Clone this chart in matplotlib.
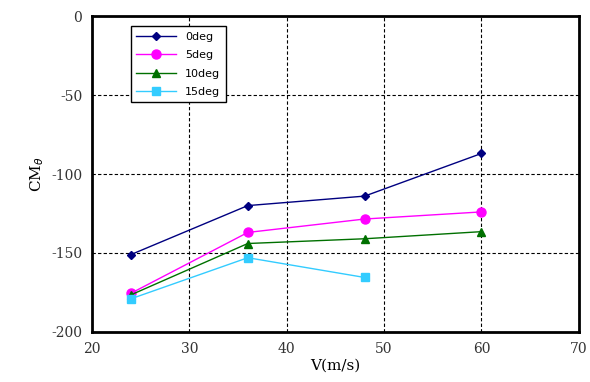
import matplotlib.pyplot as plt

speed = [24, 36, 48, 60]
cm_0deg = [-151, -120, -114, -87]
cm_5deg = [-175.5, -137, -128.5, -124]
cm_10deg = [-176.5, -144, -141, -136.5]
speed_15 = [24, 36, 48]
cm_15deg = [-179, -153, -165.5]

plt.rcParams['font.family'] = ['DejaVu Serif']
plt.rcParams['axes.unicode_minus'] = False

fig = plt.figure(figsize=(5.9, 3.82), dpi=100)
ax = fig.add_axes([0.156, 0.131, 0.825, 0.827])

ax.plot(speed, cm_0deg, color='#000080', marker='D', markersize=4.5, lw=1, label='0deg')
ax.plot(speed, cm_5deg, color='#FF00FF', marker='o', markersize=6.5, lw=1, label='5deg')
ax.plot(speed, cm_10deg, color='#007000', marker='^', markersize=5.5, lw=1, label='10deg')
ax.plot(speed_15, cm_15deg, color='#33CCFF', marker='s', markersize=5.5, lw=1, label='15deg')

ax.set_xlim(20, 70)
ax.set_ylim(-200, 0)
ax.set_xticks([20, 30, 40, 50, 60, 70])
ax.set_yticks([-200, -150, -100, -50, 0])
ax.grid(True, color='black', linestyle=(0, (3, 2)), linewidth=0.8)
for s in ax.spines.values():
    s.set_linewidth(2)
ax.tick_params(length=0, pad=7, labelsize=10, colors='#333333')

ax.set_xlabel('V(m/s)', fontsize=11, labelpad=2)
ax.set_ylabel(r'CM$_\theta$', fontsize=11, labelpad=4)

leg = ax.legend(loc='upper left', bbox_to_anchor=(0.068, 0.985), fancybox=False,
                edgecolor='black', framealpha=1, prop={'family': 'DejaVu Sans', 'size': 8},
                handlelength=3.6, labelspacing=0.75, borderpad=0.5)
leg.get_frame().set_linewidth(1)

fig.savefig('out.png', dpi=100)
